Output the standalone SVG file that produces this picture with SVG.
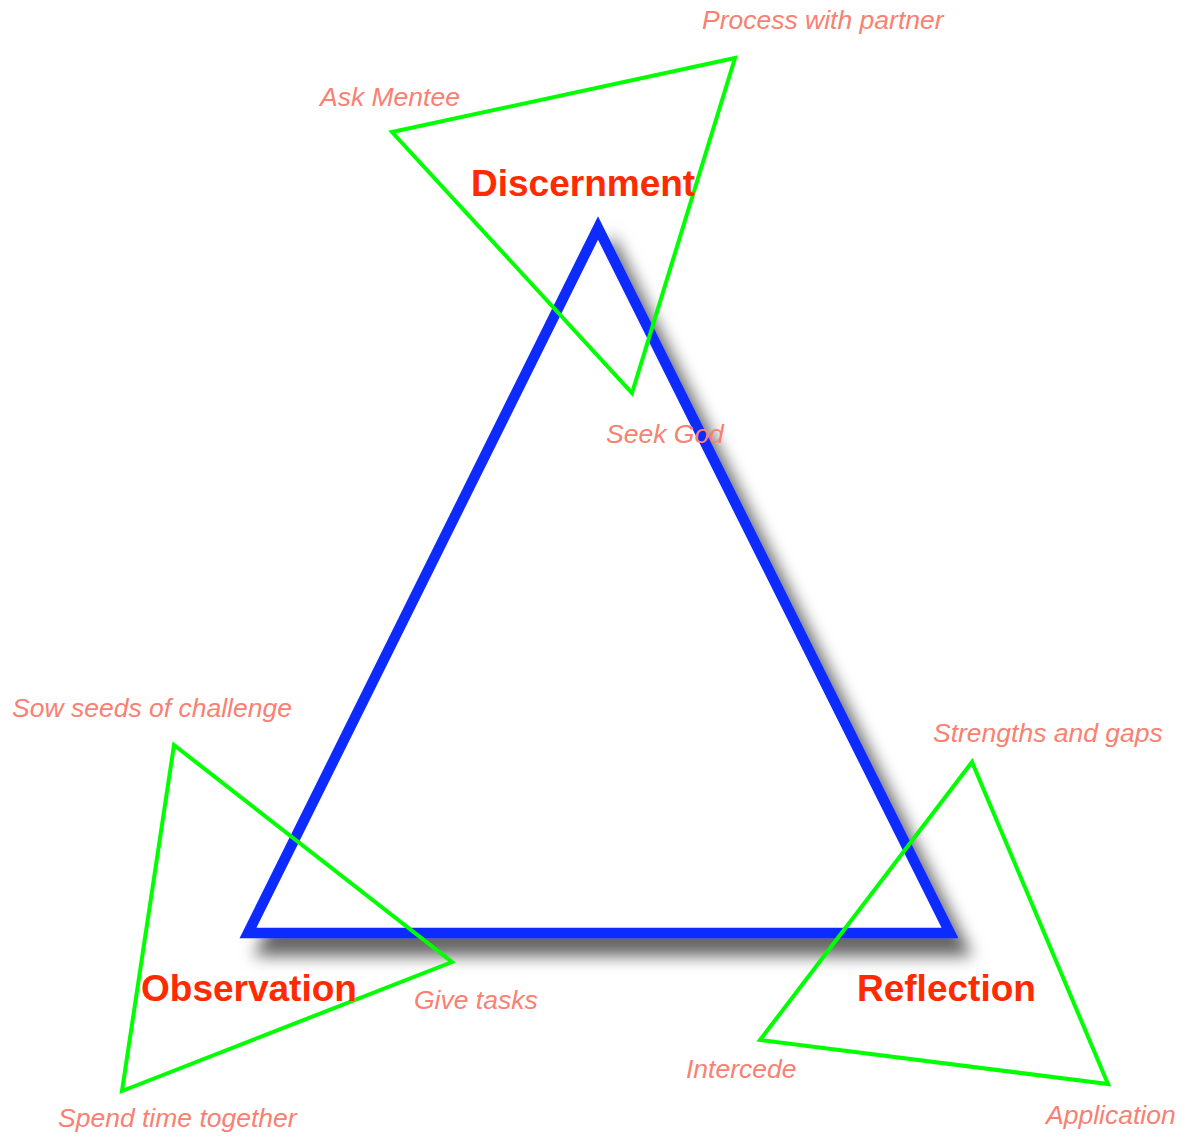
<svg xmlns="http://www.w3.org/2000/svg" width="1185" height="1137" viewBox="0 0 1185 1137">
<style>
.main{fill:#fff;stroke:#0d2bff;stroke-width:10.5;stroke-linejoin:miter;stroke-miterlimit:10}
.sub{fill:none;stroke:#00ff00;stroke-width:4;stroke-linejoin:miter;stroke-miterlimit:10}
.lbl{font-family:"Liberation Sans",Arial,sans-serif;font-style:italic;font-size:26.5px;fill:#fa8072}
.hd{font-family:"Liberation Sans",Arial,sans-serif;font-weight:bold;font-size:37px;fill:#ff2a00}
</style>
<defs>
<filter id="sh" x="-20%" y="-20%" width="140%" height="140%">
<feDropShadow dx="14" dy="18" stdDeviation="8" flood-color="#000" flood-opacity="0.6"/>
</filter>
</defs>
<rect width="1185" height="1137" fill="#fff"/>
<g id="main-triangle">
<polygon class="main" filter="url(#sh)" points="598,228 248,933 950,933"/>
</g>
<g id="discernment">
<polygon class="sub" points="392,132 735,58 632,393"/>
<text class="hd" x="471" y="196">Discernment</text>
<text class="lbl" x="702" y="29">Process with partner</text>
<text class="lbl" x="320" y="106">Ask Mentee</text>
<text class="lbl" x="606" y="443">Seek God</text>
</g>
<g id="observation">
<polygon class="sub" points="174,745 452,962 122,1091"/>
<text class="hd" x="141" y="1001">Observation</text>
<text class="lbl" x="12" y="717">Sow seeds of challenge</text>
<text class="lbl" x="414" y="1009">Give tasks</text>
<text class="lbl" x="58" y="1127">Spend time together</text>
</g>
<g id="reflection">
<polygon class="sub" points="972,762 1108,1084 760,1040"/>
<text class="hd" x="857" y="1001">Reflection</text>
<text class="lbl" x="933" y="742">Strengths and gaps</text>
<text class="lbl" x="686" y="1078">Intercede</text>
<text class="lbl" x="1046" y="1124">Application</text>
</g>
<g id="connectors"></g>
</svg>
